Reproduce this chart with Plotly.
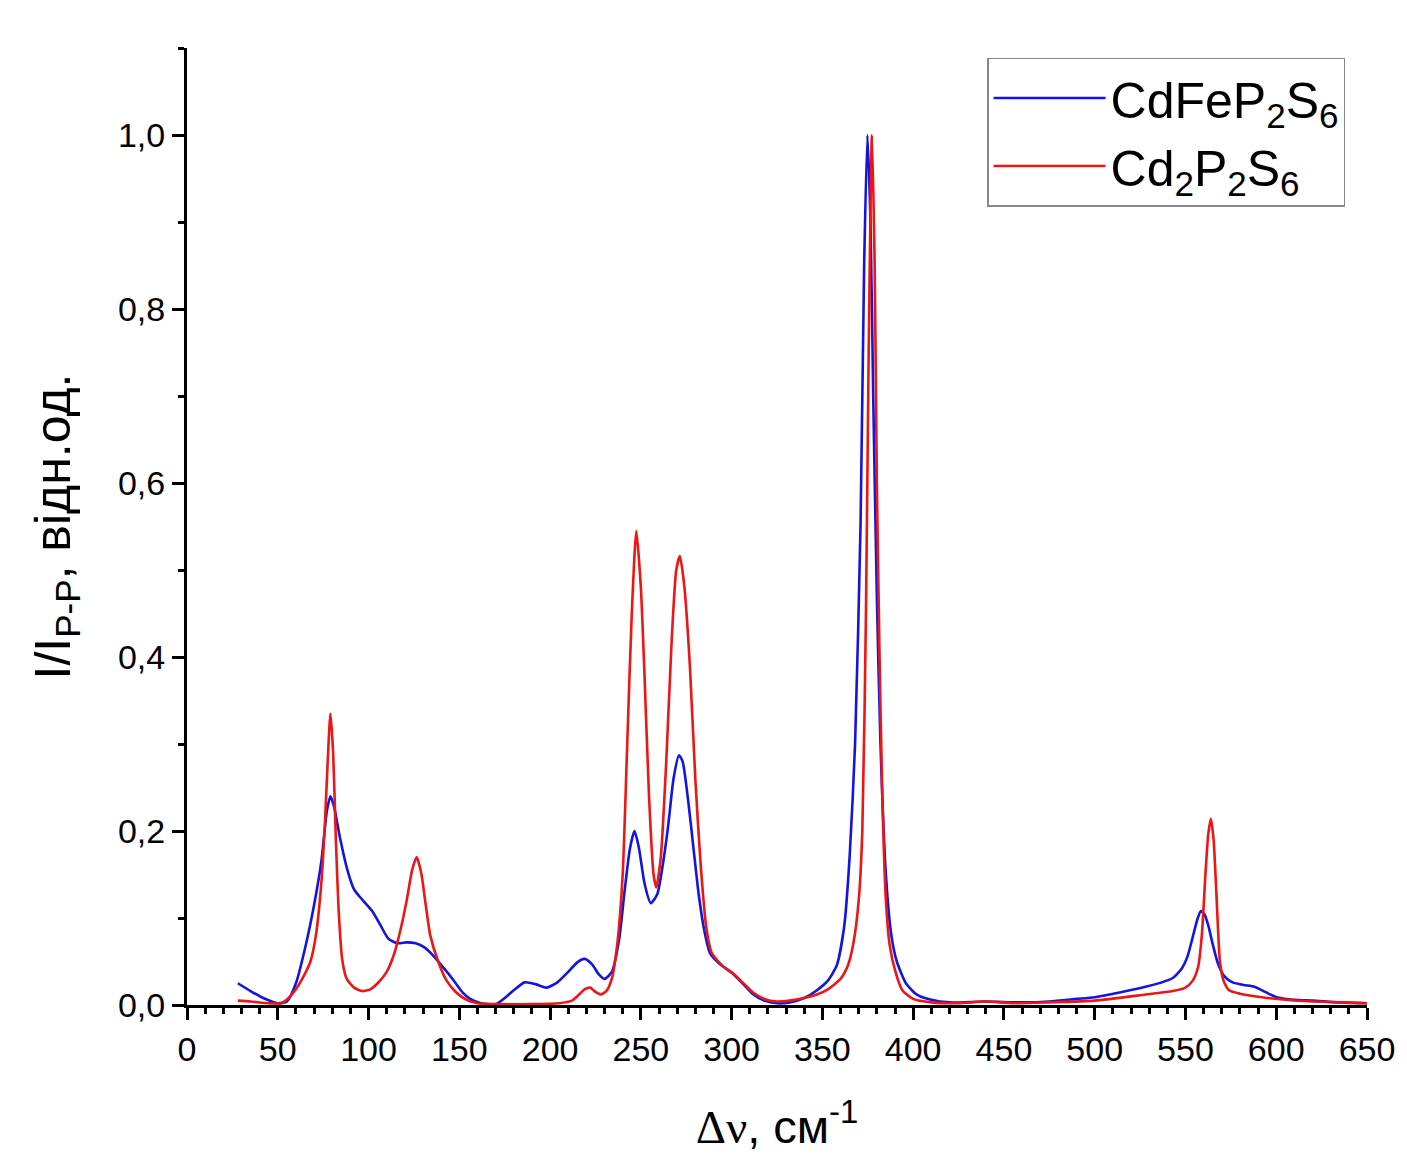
import plotly.graph_objects as go

# ---- data ----
blue_x = [28, 35, 42, 50, 55, 60, 65, 70, 74, 77, 79, 81, 84, 88, 92, 97, 102, 107, 111, 116, 121, 126,
          131, 136, 140, 144, 148, 152, 156, 162, 170, 175, 180, 186, 192, 198, 204, 210, 215, 219, 223,
          227, 230, 234, 238, 241, 244, 246.5, 249, 252, 255.5, 259, 262, 265, 268, 271, 273, 276, 279,
          282, 285, 288, 293, 300, 306, 312, 318, 325, 332, 340, 347, 353, 358, 362, 365, 368, 371, 373,
          374.8, 376.5, 378, 380, 382, 385, 388, 391, 396, 402, 410, 420, 440, 460, 475, 490, 500, 515,
          528, 537, 543, 548, 551, 554, 556.5, 558.5, 560.5, 562.5, 565, 568, 571.5, 576, 582, 588, 594,
          600, 610, 620, 635, 650]
blue_y = [0.025, 0.016, 0.008, 0.002, 0.004, 0.025, 0.065, 0.115, 0.165, 0.222, 0.240, 0.228, 0.195,
          0.158, 0.133, 0.120, 0.108, 0.090, 0.076, 0.071, 0.072, 0.071, 0.066, 0.056, 0.046, 0.036,
          0.025, 0.014, 0.007, 0.002, 0.001, 0.008, 0.017, 0.026, 0.024, 0.020, 0.026, 0.038, 0.049,
          0.053, 0.047, 0.035, 0.030, 0.038, 0.075, 0.13, 0.18, 0.200, 0.18, 0.14, 0.117, 0.127, 0.16,
          0.205, 0.26, 0.287, 0.28, 0.236, 0.18, 0.125, 0.085, 0.06, 0.048, 0.037, 0.025, 0.012, 0.005,
          0.002, 0.003, 0.008, 0.017, 0.028, 0.046, 0.09, 0.17, 0.3, 0.55, 0.85, 1.0, 0.9, 0.7, 0.47,
          0.3, 0.15, 0.08, 0.05, 0.025, 0.012, 0.006, 0.003, 0.004, 0.003, 0.004, 0.007, 0.009, 0.015,
          0.021, 0.026, 0.031, 0.042, 0.055, 0.078, 0.098, 0.108, 0.104, 0.092, 0.07, 0.047, 0.033,
          0.026, 0.023, 0.021, 0.015, 0.009, 0.006, 0.005, 0.003, 0.002]

red_x = [28, 35, 45, 52, 56, 60, 64, 68, 71, 74, 76, 77.5, 79, 80.5, 82, 83.5, 85.5, 88, 92, 96.5, 101,
         105, 110, 114, 118, 121, 124, 126.5, 129, 131.5, 134, 138.7, 143, 148, 154, 160, 170, 190, 205,
         212, 216, 219, 222, 225, 228, 231, 234, 237, 240, 242.5, 245, 247.5, 250, 252, 254.5, 257, 258.5,
         261, 264, 267, 269.5, 271.5, 274, 277, 280, 283, 286, 289, 295, 301, 306, 312, 318, 325, 332,
         340, 347, 353, 360, 364, 367, 370, 372, 374, 375.5, 377.3, 378.8, 380, 381.5, 383, 385, 387, 390,
         394, 400, 410, 425, 440, 455, 475, 500, 528, 543, 550, 554, 557, 559, 561, 562.5, 564, 565.5,
         567, 569, 571, 574, 580, 592, 605, 620, 635, 650]
red_y = [0.005, 0.004, 0.002, 0.002, 0.008, 0.018, 0.032, 0.05, 0.08, 0.14, 0.21, 0.28, 0.335, 0.29,
         0.19, 0.11, 0.052, 0.03, 0.02, 0.016, 0.018, 0.025, 0.038, 0.058, 0.09, 0.12, 0.155, 0.17, 0.152,
         0.115, 0.08, 0.048, 0.028, 0.015, 0.006, 0.002, 0.001, 0.001, 0.002, 0.005, 0.012, 0.018, 0.02,
         0.015, 0.012, 0.016, 0.03, 0.07, 0.15, 0.3, 0.45, 0.545, 0.48, 0.38, 0.24, 0.15, 0.135, 0.17,
         0.28, 0.42, 0.5, 0.516, 0.48, 0.39, 0.26, 0.16, 0.09, 0.06, 0.045, 0.036, 0.026, 0.014, 0.007,
         0.004, 0.005, 0.008, 0.012, 0.018, 0.03, 0.045, 0.07, 0.12, 0.2, 0.45, 0.75, 1.0, 0.85, 0.6,
         0.4, 0.24, 0.12, 0.07, 0.04, 0.017, 0.007, 0.003, 0.002, 0.004, 0.002, 0.003, 0.005, 0.012,
         0.016, 0.02, 0.028, 0.044, 0.08, 0.15, 0.195, 0.214, 0.19, 0.13, 0.05, 0.028, 0.017, 0.013,
         0.009, 0.006, 0.004, 0.003, 0.002]

x_ticks = [0, 50, 100, 150, 200, 250, 300, 350, 400, 450, 500, 550, 600, 650]
y_ticks = [0.0, 0.2, 0.4, 0.6, 0.8, 1.0]

FONT = "Liberation Sans, Arial, sans-serif"

fig = go.Figure()
fig.add_trace(go.Scatter(x=blue_x, y=blue_y, mode="lines", name="CdFeP<sub>2</sub>S<sub>6</sub>",
                         line=dict(color="#1414e0", width=2.6, shape="spline", smoothing=0.6)))
fig.add_trace(go.Scatter(x=red_x, y=red_y, mode="lines", name="Cd<sub>2</sub>P<sub>2</sub>S<sub>6</sub>",
                         line=dict(color="#ee1515", width=2.6, shape="spline", smoothing=0.6)))

axis_common = dict(showgrid=False, zeroline=False, showline=True, linecolor="black", linewidth=3,
                   ticks="outside", ticklen=12, tickwidth=3, tickcolor="black",
                   tickfont=dict(family=FONT, size=34, color="black"))

fig.update_xaxes(range=[0, 650], tickvals=x_ticks, ticktext=[str(v) for v in x_ticks],
                 minor=dict(dtick=10, tick0=0, ticks="outside", ticklen=6, tickwidth=2.5, tickcolor="black"),
                 title=dict(text="<span style=\"font-family:'Liberation Serif', 'Times New Roman', serif\">Δν</span>, см<sup>-1</sup>",
                            font=dict(family=FONT, size=47, color="black"), standoff=44),
                 **axis_common)
fig.update_yaxes(range=[0, 1.1], tickvals=y_ticks, tickformat=".1f",
                 minor=dict(dtick=0.1, tick0=0, ticks="outside", ticklen=6, tickwidth=2.5, tickcolor="black"),
                 title=dict(text="I/I<sub>P-P</sub>, відн.од.", font=dict(family=FONT, size=50, color="black"),
                            standoff=32),
                 **axis_common)

fig.update_layout(
    width=1399, height=1149,
    margin=dict(l=179, r=34, t=40, b=152),
    plot_bgcolor="white", paper_bgcolor="white",
    separators=", ",
    font=dict(family=FONT, color="black"),
    legend=dict(x=0.678, y=0.99, xanchor="left", yanchor="top",
                bordercolor="#888888", borderwidth=1.5, bgcolor="white",
                font=dict(family=FONT, size=50, color="black"),
                itemwidth=112, tracegroupgap=0),
)

fig.write_html("out.html")
